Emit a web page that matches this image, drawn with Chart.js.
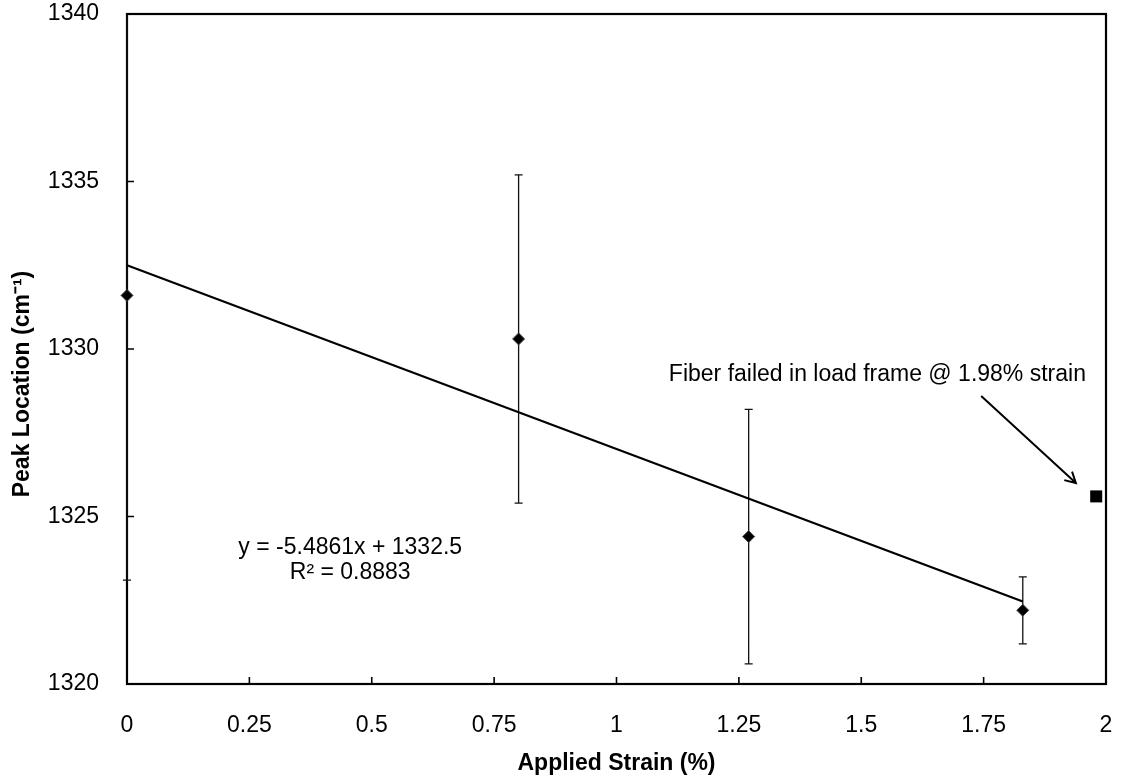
<!DOCTYPE html>
<html>
<head>
<meta charset="utf-8">
<script src="https://cdn.jsdelivr.net/npm/chart.js@4.4.1/dist/chart.umd.min.js"></script>
<style>
html,body{margin:0;padding:0;background:#fff;}
#wrap{width:1128px;height:780px;}
</style>
</head>
<body>
<div id="wrap"><canvas id="c" width="1128" height="780"></canvas></div>
<script>
// ---- data ----
const strain = [0, 0.8, 1.27, 1.83];
const peak = [1331.6, 1330.3, 1324.4, 1322.2];
const peakErr = [8.5, 4.9, 3.8, 1.0];
const failStrain = [1.98];
const failPeak = [1325.6];
const trendStrain = [0, 1.83];
const trendPeak = [1332.5, 1322.46];
const xTicks = [0, 0.25, 0.5, 0.75, 1, 1.25, 1.5, 1.75, 2];
const yTicks = [1320, 1325, 1330, 1335, 1340];
const eqLines = ['y = -5.4861x + 1332.5', 'R² = 0.8883'];
const failNote = 'Fiber failed in load frame @ 1.98% strain';
const xTitle = 'Applied Strain (%)';
const yTitle = 'Peak Location (cm⁻¹)';

// ---- annotation placement (data coordinates) ----
const annot = {
  eq: {x: 0.456, y: 1324.06, lineGap: 25},
  note: {x: 1.533, y: 1329.22},
  arrow: {x1: 1.745, y1: 1328.6, x2: 1.9385, y2: 1326.0}
};

const FONT = '"Liberation Sans", Arial, sans-serif';
const FS = 23;

const deco = {
  id: 'deco',
  beforeDatasetsDraw(chart) {
    const {ctx, chartArea: a, scales: {x, y}} = chart;
    ctx.save();
    // frame
    ctx.strokeStyle = '#000';
    ctx.lineWidth = 2.2;
    ctx.strokeRect(a.left, a.top, a.right - a.left, a.bottom - a.top);
    // inward ticks
    ctx.lineWidth = 1.6;
    ctx.beginPath();
    yTicks.forEach(v => {
      const p = y.getPixelForValue(v);
      ctx.moveTo(a.left, p); ctx.lineTo(a.left + 7, p);
    });
    xTicks.forEach(v => {
      const p = x.getPixelForValue(v);
      ctx.moveTo(p, a.bottom); ctx.lineTo(p, a.bottom - 7);
    });
    ctx.stroke();
    // error bars
    ctx.beginPath();
    ctx.rect(a.left - 10, a.top + 1, a.right - a.left + 20, a.bottom - a.top);
    ctx.clip();
    ctx.strokeStyle = '#111';
    ctx.lineWidth = 1.3;
    ctx.beginPath();
    strain.forEach((s, i) => {
      const px = x.getPixelForValue(s);
      const pt = y.getPixelForValue(peak[i] + peakErr[i]);
      const pb = y.getPixelForValue(peak[i] - peakErr[i]);
      ctx.moveTo(px, pt); ctx.lineTo(px, pb);
      ctx.moveTo(px - 4, pt); ctx.lineTo(px + 4, pt);
      ctx.moveTo(px - 4, pb); ctx.lineTo(px + 4, pb);
    });
    ctx.stroke();
    ctx.restore();
  },
  afterDraw(chart) {
    const {ctx, chartArea: a, scales: {x, y}} = chart;
    ctx.save();
    ctx.fillStyle = '#000';
    ctx.font = FS + 'px ' + FONT;
    ctx.textAlign = 'center';
    ctx.textBaseline = 'middle';
    const ex = x.getPixelForValue(annot.eq.x), ey = y.getPixelForValue(annot.eq.y);
    eqLines.forEach((t, i) => ctx.fillText(t, ex, ey + i * annot.eq.lineGap));
    ctx.fillText(failNote, x.getPixelForValue(annot.note.x), y.getPixelForValue(annot.note.y));
    // arrow
    const x1 = x.getPixelForValue(annot.arrow.x1), y1 = y.getPixelForValue(annot.arrow.y1);
    const x2 = x.getPixelForValue(annot.arrow.x2), y2 = y.getPixelForValue(annot.arrow.y2);
    const ang = Math.atan2(y2 - y1, x2 - x1);
    ctx.strokeStyle = '#000';
    ctx.lineWidth = 2;
    ctx.beginPath();
    ctx.moveTo(x1, y1); ctx.lineTo(x2, y2);
    const L = 12, sp = 0.5;
    ctx.moveTo(x2 - L * Math.cos(ang - sp), y2 - L * Math.sin(ang - sp));
    ctx.lineTo(x2, y2);
    ctx.lineTo(x2 - L * Math.cos(ang + sp), y2 - L * Math.sin(ang + sp));
    ctx.stroke();
    // y axis title
    ctx.font = 'bold ' + FS + 'px ' + FONT;
    ctx.translate(23, 384);
    ctx.rotate(-Math.PI / 2);
    ctx.fillText(yTitle, 0, 0);
    ctx.restore();
  }
};

new Chart(document.getElementById('c'), {
  type: 'scatter',
  data: {
    datasets: [
      {
        label: 'Trend',
        data: trendStrain.map((v, i) => ({x: v, y: trendPeak[i]})),
        showLine: true,
        borderColor: '#000',
        borderWidth: 2.2,
        pointRadius: 0,
        clip: false
      },
      {
        label: 'Peak',
        data: strain.map((v, i) => ({x: v, y: peak[i]})),
        pointStyle: 'rectRot',
        pointRadius: 6,
        backgroundColor: '#000',
        borderColor: '#444',
        borderWidth: 1,
        clip: false
      },
      {
        label: 'Failed',
        data: failStrain.map((v, i) => ({x: v, y: failPeak[i]})),
        pointStyle: 'rect',
        pointRadius: 8.5,
        backgroundColor: '#000',
        borderWidth: 0,
        clip: false
      }
    ]
  },
  options: {
    responsive: false,
    animation: false,
    devicePixelRatio: 1,
    layout: {padding: {top: 14, right: 22, left: 0, bottom: 0}},
    plugins: {legend: {display: false}, tooltip: {enabled: false}},
    scales: {
      x: {
        type: 'linear', min: 0, max: 2,
        afterBuildTicks: s => { s.ticks = xTicks.map(v => ({value: v})); },
        afterFit: s => { s.height = 96; s.paddingLeft = 0; s.paddingRight = 0; },
        ticks: {callback: v => String(v), font: {family: FONT, size: FS}, color: '#000', padding: 20, maxRotation: 0, autoSkip: false},
        grid: {display: false},
        border: {display: false},
        title: {display: true, text: xTitle, color: '#000', font: {family: FONT, size: FS, weight: 'bold'}, padding: {top: 0, bottom: 3}}
      },
      y: {
        type: 'linear', min: 1320, max: 1340,
        afterBuildTicks: s => { s.ticks = yTicks.map(v => ({value: v})); },
        afterFit: s => { s.width = 127; s.paddingTop = 0; s.paddingBottom = 0; },
        ticks: {callback: v => String(v), font: {family: FONT, size: FS}, color: '#000', padding: 20, autoSkip: false},
        grid: {display: false},
        border: {display: false}
      }
    }
  },
  plugins: [deco]
});
</script>
</body>
</html>
